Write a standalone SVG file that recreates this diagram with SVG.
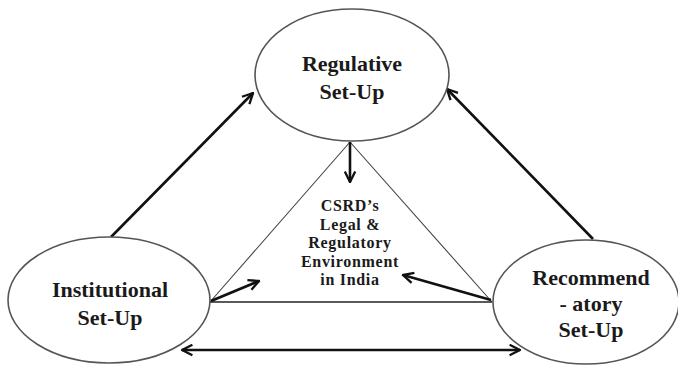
<svg xmlns="http://www.w3.org/2000/svg" width="678" height="365" viewBox="0 0 678 365">
<style>
.node{fill:#fff;stroke:#555;stroke-width:1.6}
.lbl{font-family:"Liberation Serif","Times New Roman",serif;font-weight:bold;fill:#1a1a1a;text-anchor:middle}
.big{font-size:22px}
.small{font-size:16px;letter-spacing:0.7px}
.arr{stroke:#111;stroke-width:2.6;fill:none;marker-end:url(#ah)}
.thin{stroke:#444;stroke-width:1.1;fill:none}
.base{stroke:#222;stroke-width:1.6;fill:none}
</style>
<defs>
<marker id="ah" viewBox="0 0 10 10" refX="9" refY="5" markerWidth="5" markerHeight="5" orient="auto-start-reverse" markerUnits="strokeWidth">
<path d="M1,1 L9,5 L1,9" fill="none" stroke="#111" stroke-width="1.8"/>
</marker>
</defs>
<g id="connectors">
<path class="thin" d="M350,142 L210,302 M350,142 L492,302"/>
<path class="base" d="M210,302 L492,302"/>
<path class="arr" d="M350,142 L350,182"/>
<path class="arr" d="M211,301 L259,281"/>
<path class="arr" d="M491,300 L403,275"/>
<path class="arr" d="M111,237 L253,93"/>
<path class="arr" d="M593,239 L447,89"/>
<path class="arr" style="marker-start:url(#ah)" d="M182,350 L520,350"/>
</g>
<g id="regulative">
<ellipse class="node" cx="352" cy="75" rx="97" ry="66"/>
<text class="lbl big" x="352" y="71">Regulative</text>
<text class="lbl big" x="352" y="99">Set-Up</text>
</g>
<g id="institutional">
<ellipse class="node" cx="109" cy="300" rx="101" ry="63"/>
<text class="lbl big" x="110" y="297">Institutional</text>
<text class="lbl big" x="110" y="325">Set-Up</text>
</g>
<g id="recommendatory">
<ellipse class="node" cx="586" cy="302" rx="93" ry="62"/>
<text class="lbl big" x="591" y="285">Recommend</text>
<text class="lbl big" x="591" y="311">- atory</text>
<text class="lbl big" x="591" y="337">Set-Up</text>
</g>
<g id="csrd">
<text class="lbl small" x="350" y="211">CSRD’s</text>
<text class="lbl small" x="350" y="229.5">Legal &amp;</text>
<text class="lbl small" x="350" y="248">Regulatory</text>
<text class="lbl small" x="350" y="266.5">Environment</text>
<text class="lbl small" x="350" y="285">in India</text>
</g>
</svg>
